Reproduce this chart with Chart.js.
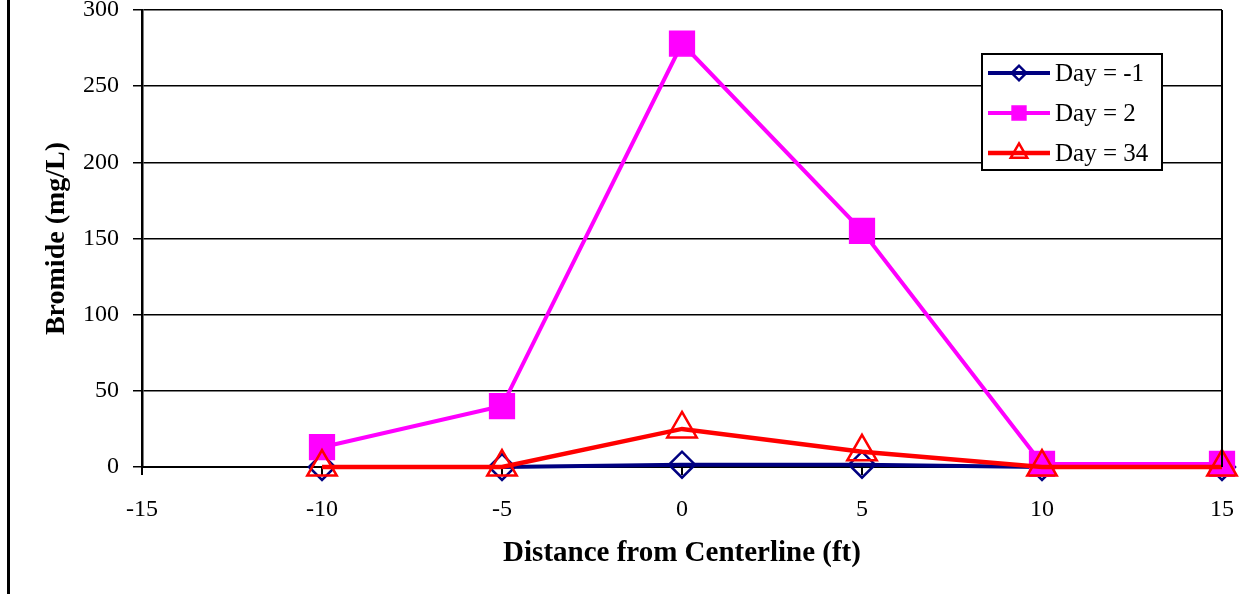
<!DOCTYPE html>
<html lang="en">
<head>
  <meta charset="UTF-8">
  <title>Bromide vs Distance from Centerline</title>
  <script src="https://cdn.jsdelivr.net/npm/chart.js"></script>
  <style>
    html, body { margin: 0; padding: 0; background: #fff; }
    .wrap { position: relative; width: 1254px; height: 594px; }
  </style>
</head>
<body>
  <div class="wrap">
    <canvas id="bromideChart"></canvas>
  </div>

  <script>
    // distances (ft) and bromide readings (mg/L)
    const distances = [-10, -5, 0, 5, 10, 15];
    const dayMinus1 = [0, 0, 1.5, 1.5, 0, 0];
    const day2 = [13, 40, 278, 155, 2, 2];
    const day34 = [0, 0, 25, 10, 0, 0];
    const seriesLabels = ['Day = -1', 'Day = 2', 'Day = 34'];

    const serif = "'Liberation Serif', 'Times New Roman', serif";

    function toPoints(values) {
      return distances.map((d, i) => ({ x: d, y: values[i] }));
    }

    // border round the plot area plus the page's left rule
    const frame = {
      id: 'frame',
      afterDraw(chart) {
        const { ctx, chartArea } = chart;
        ctx.save();
        ctx.strokeStyle = '#000';
        ctx.lineWidth = 2;
        ctx.beginPath();
        ctx.moveTo(chartArea.right, chartArea.top);
        ctx.lineTo(chartArea.right, chartArea.bottom);
        ctx.stroke();
        ctx.lineWidth = 3;
        ctx.beginPath();
        ctx.moveTo(8.5, 0);
        ctx.lineTo(8.5, chart.height);
        ctx.stroke();
        ctx.restore();
      }
    };

    // legend box drawn inside the plot, like the original
    const boxLegend = {
      id: 'boxLegend',
      afterDraw(chart) {
        const { ctx } = chart;
        const left = 982, top = 54, w = 180, h = 116;
        ctx.save();
        ctx.fillStyle = '#fff';
        ctx.fillRect(left, top, w, h);
        ctx.strokeStyle = '#000';
        ctx.lineWidth = 2;
        ctx.strokeRect(left, top, w, h);
        const rows = [73, 113, 153];
        chart.data.datasets.forEach((ds, i) => {
          const y = rows[i];
          ctx.strokeStyle = ds.borderColor;
          ctx.lineWidth = ds.borderWidth;
          ctx.beginPath();
          ctx.moveTo(988, y);
          ctx.lineTo(1050, y);
          ctx.stroke();
          ctx.fillStyle = ds.pointBackgroundColor;
          ctx.strokeStyle = ds.pointBorderColor;
          ctx.lineWidth = ds.pointBorderWidth;
          Chart.helpers.drawPoint(ctx, {
            pointStyle: ds.pointStyle,
            radius: ds.pointRadius * 0.56,
            borderWidth: ds.pointBorderWidth
          }, 1019, y);
          ctx.fillStyle = '#000';
          ctx.font = '25px ' + serif;
          ctx.textBaseline = 'middle';
          ctx.textAlign = 'left';
          ctx.fillText(ds.label, 1055, y + 1);
        });
        ctx.restore();
      }
    };

    const ctx = document.getElementById('bromideChart').getContext('2d');

    new Chart(ctx, {
      type: 'line',
      data: {
        datasets: [
          {
            label: seriesLabels[0],
            data: toPoints(dayMinus1),
            borderColor: '#000080',
            borderWidth: 4,
            pointStyle: 'rectRot',
            pointRadius: 13,
            pointBorderWidth: 2.5,
            pointBorderColor: '#000080',
            pointBackgroundColor: 'rgba(0,0,0,0)',
            order: 2
          },
          {
            label: seriesLabels[1],
            data: toPoints(day2),
            borderColor: '#ff00ff',
            borderWidth: 4,
            pointStyle: 'rect',
            pointRadius: 17.5,
            pointBorderWidth: 1.5,
            pointBorderColor: '#ff00ff',
            pointBackgroundColor: '#ff00ff',
            order: 1
          },
          {
            label: seriesLabels[2],
            data: toPoints(day34),
            borderColor: '#ff0000',
            borderWidth: 4.5,
            pointStyle: 'triangle',
            pointRadius: 17,
            pointBorderWidth: 2.5,
            pointBorderColor: '#ff0000',
            pointBackgroundColor: 'rgba(0,0,0,0)',
            order: 0
          }
        ]
      },
      options: {
        responsive: true,
        maintainAspectRatio: false,
        animation: false,
        clip: false,
        layout: { autoPadding: false, padding: { left: 0, top: 10, right: 32, bottom: 0 } },
        plugins: {
          legend: { display: false },
          tooltip: { enabled: false }
        },
        scales: {
          x: {
            type: 'linear',
            min: -15,
            max: 15,
            afterFit(scale) {
              scale.height = 127;
              scale.paddingLeft = 0;
              scale.paddingRight = 0;
            },
            ticks: {
              stepSize: 5,
              padding: 20,
              color: '#000',
              maxRotation: 0,
              font: { family: serif, size: 24 }
            },
            grid: {
              drawOnChartArea: false,
              drawTicks: true,
              tickLength: 8,
              color: '#000',
              lineWidth: 2
            },
            border: { display: true, color: '#000', width: 2 },
            title: {
              display: true,
              text: 'Distance from Centerline (ft)',
              color: '#000',
              font: { family: serif, size: 29, weight: 'bold' },
              padding: { top: 0, bottom: 23 }
            }
          },
          y: {
            min: 0,
            max: 300,
            afterFit(scale) {
              scale.width = 142;
              scale.paddingTop = 0;
              scale.paddingBottom = 0;
            },
            ticks: {
              stepSize: 50,
              padding: 14,
              color: '#000',
              font: { family: serif, size: 24 }
            },
            grid: {
              color: '#000',
              lineWidth: 1.5,
              tickLength: 9
            },
            border: { display: true, color: '#000', width: 2.5 },
            title: {
              display: true,
              text: 'Bromide (mg/L)',
              color: '#000',
              font: { family: serif, size: 28, weight: 'bold' },
              padding: { top: 40, bottom: 0 }
            }
          }
        }
      },
      plugins: [frame, boxLegend]
    });
  </script>
</body>
</html>
